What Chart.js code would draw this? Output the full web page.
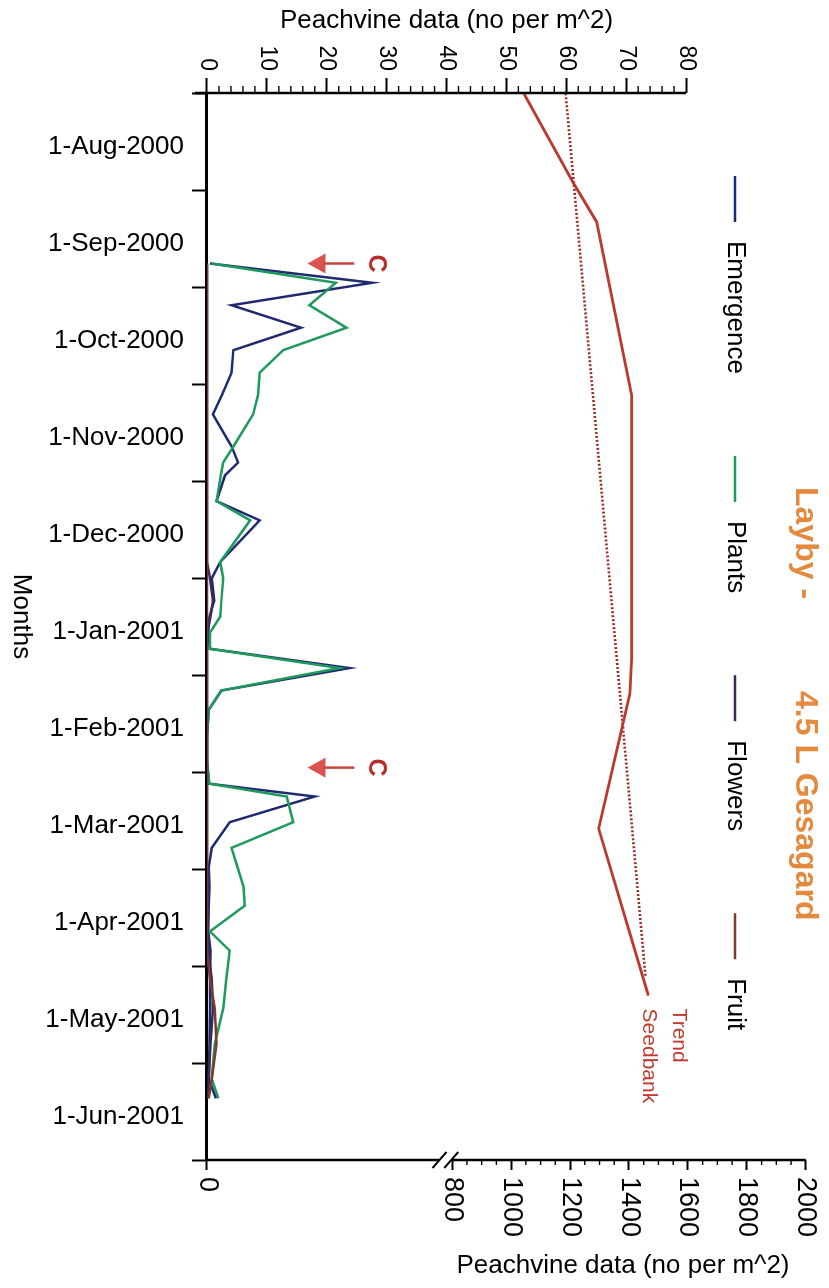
<!DOCTYPE html>
<html><head><meta charset="utf-8">
<script src="https://cdn.jsdelivr.net/npm/chart.js@4.4.1/dist/chart.umd.min.js"></script>
<style>
html,body{margin:0;padding:0;background:#fff;overflow:hidden;width:829px;height:1288px;}
#wrap{position:absolute;left:0;top:0;width:1288px;height:829px;transform-origin:0 0;transform:translate(829px,0) rotate(90deg);}
canvas{display:block;}
</style></head><body>
<div id="wrap"><canvas id="c" width="1288" height="829"></canvas></div>
<script>
// ---------------- data ----------------
const monthLabels = ['1-Aug-2000','1-Sep-2000','1-Oct-2000','1-Nov-2000','1-Dec-2000','1-Jan-2001',
  '1-Feb-2001','1-Mar-2001','1-Apr-2001','1-May-2001','1-Jun-2001'];

const sampleDates = ['2000-09-08','2000-09-14','2000-09-21','2000-09-28','2000-10-05','2000-10-12',
  '2000-10-19','2000-10-25','2000-11-04','2000-11-09','2000-11-13','2000-11-21','2000-11-27',
  '2000-12-10','2000-12-15','2000-12-22','2000-12-27','2001-01-01','2001-01-06','2001-01-12',
  '2001-01-19','2001-01-25','2001-02-02','2001-02-10','2001-02-17','2001-02-21','2001-03-01',
  '2001-03-09','2001-03-15','2001-03-21','2001-03-27','2001-04-04','2001-04-10','2001-04-19',
  '2001-04-28','2001-05-09','2001-05-20','2001-05-26'];

const emergence = [0.5,27.6,4.1,15.7,4.4,4.1,2.5,1.0,4.1,5.2,3.0,1.6,8.8,
  2.2,0.8,1.2,0.4,0.2,0.5,23.8,2.4,0.3,0,0,0.3,18.0,3.8,
  0.8,0.3,0.4,0.3,0.2,0.6,0.5,0.5,0.4,0.3,1.5];

const plants = [0.7,21.5,17.1,23.3,12.7,8.8,8.5,7.7,4.4,2.7,2.3,1.6,7.2,
  2.2,2.7,2.4,2.2,0.5,0.5,22.1,2.4,0.3,0,0,0.4,13.3,14.4,
  4.1,5.1,6.1,6.3,0.5,3.8,3.2,2.7,1.3,0.8,1.9];

const flowers = [0,0,0,0,0,0,0,0,0,0,0,0,0,
  0,0.5,1.0,0.6,0,0,0,0,0,0,0,0,0,0,
  0,0,0,0,0,0.2,0.8,1.0,0.6,0.3,0.2];

const fruit = [0,0,0,0,0,0,0,0,0,0,0,0,0,
  0,0,0,0,0,0,0,0,0,0,0,0,0,0,
  0,0,0,0,0,0,0.5,1.3,1.6,0.8,0.3];

const seedbankDates = ['2000-07-17','2000-08-14','2000-08-26','2000-10-19','2001-01-09','2001-01-20','2001-03-03','2001-04-24'];
const seedbank = [1043,1212,1290,1409,1409,1403,1297,1466];

const trendDates = ['2000-07-17','2001-04-18'];
const trend = [1185,1456];

const cultivationDates = ['2000-09-08','2001-02-12'];

const leftTicks = [0,10,20,30,40,50,60,70,80];
const rightTicks = [0,800,1000,1200,1400,1600,1800,2000];

// ---------------- helpers ----------------
const FONT = "'Liberation Sans', Arial, Helvetica, sans-serif";
const toDay = s => { const [y,m,d] = s.split('-').map(Number); return (Date.UTC(y,m-1,d) - Date.UTC(2000,7,1)) / 864e5; };
const pts = (dates, vals) => dates.map((d,i) => ({x: toDay(d), y: vals[i]}));
const SEED_MIN = -32;

const COLORS = {
  Emergence: '#1f2a70', Plants: '#1f9a5c', Flowers: '#3a2a5a', Fruit: '#7a3b30',
  Seedbank: '#b83a30', Trend: '#9c2a24'
};

const ds = (label, data, axis, extra) => Object.assign({
  label, data, xAxisID: 'xd', yAxisID: axis, borderColor: COLORS[label], backgroundColor: COLORS[label],
  borderWidth: 2.5, pointRadius: 0, tension: 0, fill: false
}, extra || {});

const datasets = [
  ds('Fruit', pts(sampleDates, fruit), 'y'),
  ds('Flowers', pts(sampleDates, flowers), 'y'),
  ds('Plants', pts(sampleDates, plants), 'y'),
  ds('Emergence', pts(sampleDates, emergence), 'y'),
  ds('Seedbank', pts(seedbankDates, seedbank), 'ys', {borderWidth: 2.8}),
  ds('Trend', pts(trendDates, trend), 'ys', {borderWidth: 2.6, borderDash: [2,2]})
];

const legendOrder = ['Emergence','Plants','Flowers','Fruit'];

const deco = {
  id: 'deco',
  afterDraw(chart) {
    const {ctx, chartArea: ca, scales} = chart;
    const yL = scales.y, yR = scales.ys, xd = scales.xd;
    ctx.save();
    ctx.strokeStyle = '#000';
    ctx.fillStyle = '#000';
    // left value axis line (0-80)
    ctx.lineWidth = 2.5;
    ctx.beginPath();
    ctx.moveTo(ca.left, yL.getPixelForValue(0) + 12);
    ctx.lineTo(ca.left, yL.getPixelForValue(80));
    ctx.stroke();
    ctx.lineWidth = 1.4;
    for (let v = 2; v < 80; v += 2) {
      if (v % 10 === 0) continue;
      const p = yL.getPixelForValue(v);
      ctx.beginPath(); ctx.moveTo(ca.left, p); ctx.lineTo(ca.left - 7, p); ctx.stroke();
    }
    // right seedbank axis with break
    ctx.lineWidth = 2.5;
    const bLo = yR.getPixelForValue(757), bHi = yR.getPixelForValue(797);
    ctx.beginPath();
    ctx.moveTo(ca.right, ca.bottom); ctx.lineTo(ca.right, bLo);
    ctx.moveTo(ca.right, bHi); ctx.lineTo(ca.right, yR.getPixelForValue(2000));
    ctx.stroke();
    ctx.lineWidth = 2;
    [bLo, bHi].forEach(p => {
      ctx.beginPath(); ctx.moveTo(ca.right + 8, p + 7); ctx.lineTo(ca.right - 8, p - 7); ctx.stroke();
    });
    ctx.lineWidth = 1.4;
    for (let v = 850; v < 2000; v += 50) {
      if (v % 200 === 0) continue;
      const p = yR.getPixelForValue(v);
      ctx.beginPath(); ctx.moveTo(ca.right, p); ctx.lineTo(ca.right + 5, p); ctx.stroke();
    }
    // axis titles
    ctx.textAlign = 'center'; ctx.textBaseline = 'middle';
    ctx.font = '26px ' + FONT;
    ctx.save();
    ctx.translate(21, (yL.getPixelForValue(0) + yL.getPixelForValue(80)) / 2);
    ctx.rotate(-Math.PI / 2);
    ctx.fillText('Peachvine data (no per m^2)', 0, 0);
    ctx.restore();
    ctx.save();
    ctx.translate(1266, (yR.getPixelForValue(800) + yR.getPixelForValue(2000)) / 2 + 6);
    ctx.rotate(-Math.PI / 2);
    ctx.fillText('Peachvine data (no per m^2)', 0, 0);
    ctx.restore();
    ctx.font = '26px ' + FONT;
    ctx.fillText('Months', (ca.left + ca.right) / 2 - 10, 808);
    // chart title
    ctx.fillStyle = '#e38a3e';
    ctx.font = 'bold 32px ' + FONT;
    ctx.textAlign = 'left';
    ctx.fillText('Layby -', 487, 24);
    ctx.fillText('4.5 L Gesagard', 691, 24);
    // legend
    ctx.font = '26px ' + FONT;
    let lx = 176;
    const ly = 94;
    legendOrder.forEach(name => {
      const d = chart.data.datasets.find(s => s.label === name);
      ctx.strokeStyle = d.borderColor; ctx.lineWidth = 2.5;
      ctx.beginPath(); ctx.moveTo(lx, ly); ctx.lineTo(lx + 46, ly); ctx.stroke();
      ctx.fillStyle = '#000';
      ctx.fillText(name, lx + 65, ly);
      lx += 65 + ctx.measureText(name).width + 82;
    });
    // seedbank / trend labels
    const sb = chart.data.datasets.find(s => s.label === 'Seedbank');
    const last = sb.data[sb.data.length - 1];
    const ex = xd.getPixelForValue(last.x) + 13, ey = yR.getPixelForValue(last.y);
    ctx.fillStyle = '#c0392b';
    ctx.font = '21px ' + FONT;
    ctx.fillText('Seedbank', ex, ey);
    ctx.fillText('Trend', ex, ey - 30);
    // cultivation markers "C"
    cultivationDates.forEach(dstr => {
      const x = xd.getPixelForValue(toDay(dstr));
      const tip = yL.getPixelForValue(16.8), tail = yL.getPixelForValue(24.6);
      ctx.fillStyle = '#d9534f'; ctx.strokeStyle = '#c9443f'; ctx.lineWidth = 2.5;
      ctx.beginPath(); ctx.moveTo(x, tip); ctx.lineTo(x - 10, tip - 18); ctx.lineTo(x + 10, tip - 18); ctx.closePath(); ctx.fill();
      ctx.beginPath(); ctx.moveTo(x, tip - 16); ctx.lineTo(x, tail); ctx.stroke();
      ctx.fillStyle = '#b52f2a';
      ctx.font = 'bold 25px ' + FONT;
      ctx.textAlign = 'center';
      ctx.fillText('C', x, yL.getPixelForValue(28.2));
      ctx.textAlign = 'left';
    });
    ctx.restore();
  }
};

new Chart(document.getElementById('c'), {
  type: 'line',
  data: { datasets },
  options: {
    responsive: false, animation: false,
    layout: { padding: { top: 21, left: 0, right: 0, bottom: 0 } },
    plugins: { legend: { display: false }, title: { display: false }, tooltip: { enabled: false } },
    scales: {
      x: {
        type: 'category', labels: monthLabels, position: 'bottom', offset: true,
        grid: { offset: true, drawOnChartArea: false, tickLength: 15, tickWidth: 2, color: '#000' },
        border: { display: true, width: 3, color: '#000' },
        ticks: { minRotation: 90, maxRotation: 90, autoSkip: false, padding: 8, labelOffset: 5, color: '#000', font: { family: FONT, size: 26 } },
        afterFit: s => { s.height = 207; }
      },
      xd: { type: 'linear', display: false, min: -15.1, max: 317.2 },
      y: {
        type: 'linear', position: 'left', min: 0, max: 100,
        afterBuildTicks: s => { s.ticks = leftTicks.map(v => ({ value: v })); },
        grid: { drawOnChartArea: false, tickLength: 15, tickWidth: 2, color: '#000' },
        border: { display: false },
        ticks: { autoSkip: false, padding: 7, color: '#000', font: { family: FONT, size: 23 } },
        afterFit: s => { s.width = 93; }
      },
      ys: {
        type: 'linear', position: 'right', min: SEED_MIN, max: 2000,
        afterBuildTicks: s => { s.ticks = rightTicks.map(v => ({ value: v === 0 ? SEED_MIN : v })); },
        grid: { drawOnChartArea: false, tickLength: 10, tickWidth: 2, color: '#000' },
        border: { display: false },
        ticks: { autoSkip: false, padding: 7, color: '#000', font: { family: FONT, size: 27 },
          callback: (v, i) => String(rightTicks[i]) },
        afterFit: s => { s.width = 128; }
      }
    }
  },
  plugins: [deco]
});
</script>
</body></html>
